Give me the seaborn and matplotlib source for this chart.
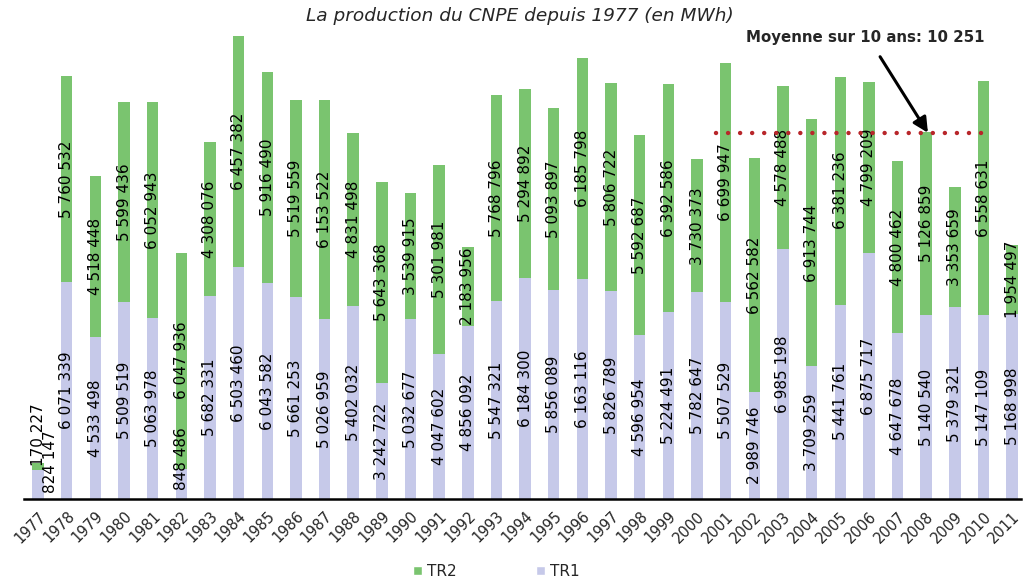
import numpy as np
import pandas as pd
import matplotlib
matplotlib.use("Agg")
import matplotlib.pyplot as plt
from matplotlib.patches import Patch
import seaborn as sns

# Annual production of the two units (MWh)
years = [str(y) for y in range(1977, 2012)]
tr1 = [824147, 6071339, 4533498, 5509519, 5063978, 848486, 5682331, 6503460,
       6043582, 5661253, 5026959, 5402032, 3242722, 5032677, 4047602, 4856092,
       5547321, 6184300, 5856089, 6163116, 5826789, 4596954, 5224491, 5782647,
       5507529, 2989746, 6985198, 3709259, 5441761, 6875717, 4647678, 5140540,
       5379321, 5147109, 5168998]
tr2 = [170227, 5760532, 4518448, 5599436, 6052943, 6047936, 4308076, 6457382,
       5916490, 5519559, 6153522, 4831498, 5643368, 3539915, 5301981, 2183956,
       5768796, 5294892, 5093897, 6185798, 5806722, 5592687, 6392586, 3730373,
       6699947, 6562582, 4578488, 6913744, 6381236, 4799209, 4800462, 5126859,
       3353659, 6558631, 1954497]
series_names = ["TR2", "TR1"]
avg_label = "Moyenne sur 10 ans: 10 251"
avg_value = 10251000

GREEN = "#7ac46f"
LAVENDER = "#c6c9e9"
RED = "#b8262a"

df = pd.DataFrame({"year": years, "TR1": tr1, "TR2": tr2})
df["total"] = df["TR1"] + df["TR2"]

sns.set_style("white")
fig = plt.figure(figsize=(10.23, 5.82), dpi=100)
ax = fig.add_axes([0.0232, 0.1426, 0.9746, 0.806])

# Stacked bars: full height in green, TR1 drawn over its lower part
sns.barplot(data=df, x="year", y="total", color=GREEN, width=0.4,
            saturation=1, ax=ax, linewidth=0)
sns.barplot(data=df, x="year", y="TR1", color=LAVENDER, width=0.4,
            saturation=1, ax=ax, linewidth=0)

ax.set_xlim(-0.5, 34.3)
ax.set_ylim(0, 13.13e6)
ax.set_xlabel("")
ax.set_ylabel("")
ax.set_yticks([])
for s in ["left", "top", "right"]:
    ax.spines[s].set_visible(False)
ax.spines["bottom"].set_linewidth(1.8)
ax.spines["bottom"].set_color("black")

# Year labels at bar centres, tick marks between categories
ax.set_xticks(np.arange(len(years)))
ax.set_xticklabels(years, rotation=45, ha="right", va="top",
                   rotation_mode="anchor", fontsize=10.5)
ax.tick_params(axis="x", which="major", length=0, pad=7)
ax.set_xticks(np.arange(len(years)) - 0.5, minor=True)
ax.tick_params(axis="x", which="minor", length=5, width=1.8, color="black",
               direction="out")

fmt = lambda v: f"{v:,}".replace(",", " ")
lab_kw = dict(rotation=90, ha="center", va="center", fontsize=11,
              color="black")
for i, (a, b) in enumerate(zip(tr1, tr2)):
    if i == 0:
        ax.text(i + 0.42, 1.04e6, fmt(a), **lab_kw)
        ax.text(i, 1.8e6, fmt(b), **lab_kw)
        continue
    ax.text(i, max(a / 2, 1.12e6), fmt(a), **lab_kw)
    ax.text(i, a + b / 2, fmt(b), **lab_kw)

# Ten-year average marker
ax.plot([23.66, 33.33], [avg_value, avg_value], color=RED, lw=3.2,
        linestyle=(0, (0.01, 2.7)), dash_capstyle="round", zorder=5)
ax.text(28.87, 12.91e6, avg_label, ha="center", va="center",
        fontsize=10.8, fontweight="bold")
ax.annotate("", xy=(31.06, avg_value), xytext=(29.39, 12.38e6),
            arrowprops=dict(arrowstyle="-|>,head_length=0.9,head_width=0.45",
                            color="black", lw=2.2, shrinkA=0, shrinkB=0),
            zorder=6)

fig.text(0.508, 0.973, "La production du CNPE depuis 1977 (en MWh)",
         ha="center", va="center", fontsize=13.3, style="italic")

handles = [Patch(facecolor=GREEN, label=series_names[0]),
           Patch(facecolor=LAVENDER, label=series_names[1])]
fig.legend(handles=handles, loc="center", bbox_to_anchor=(0.485, 0.018),
           ncol=2, frameon=False, fontsize=11, handlelength=0.6,
           handleheight=0.6, handletextpad=0.3, columnspacing=5.2)

fig.savefig("out.png", dpi=100)
